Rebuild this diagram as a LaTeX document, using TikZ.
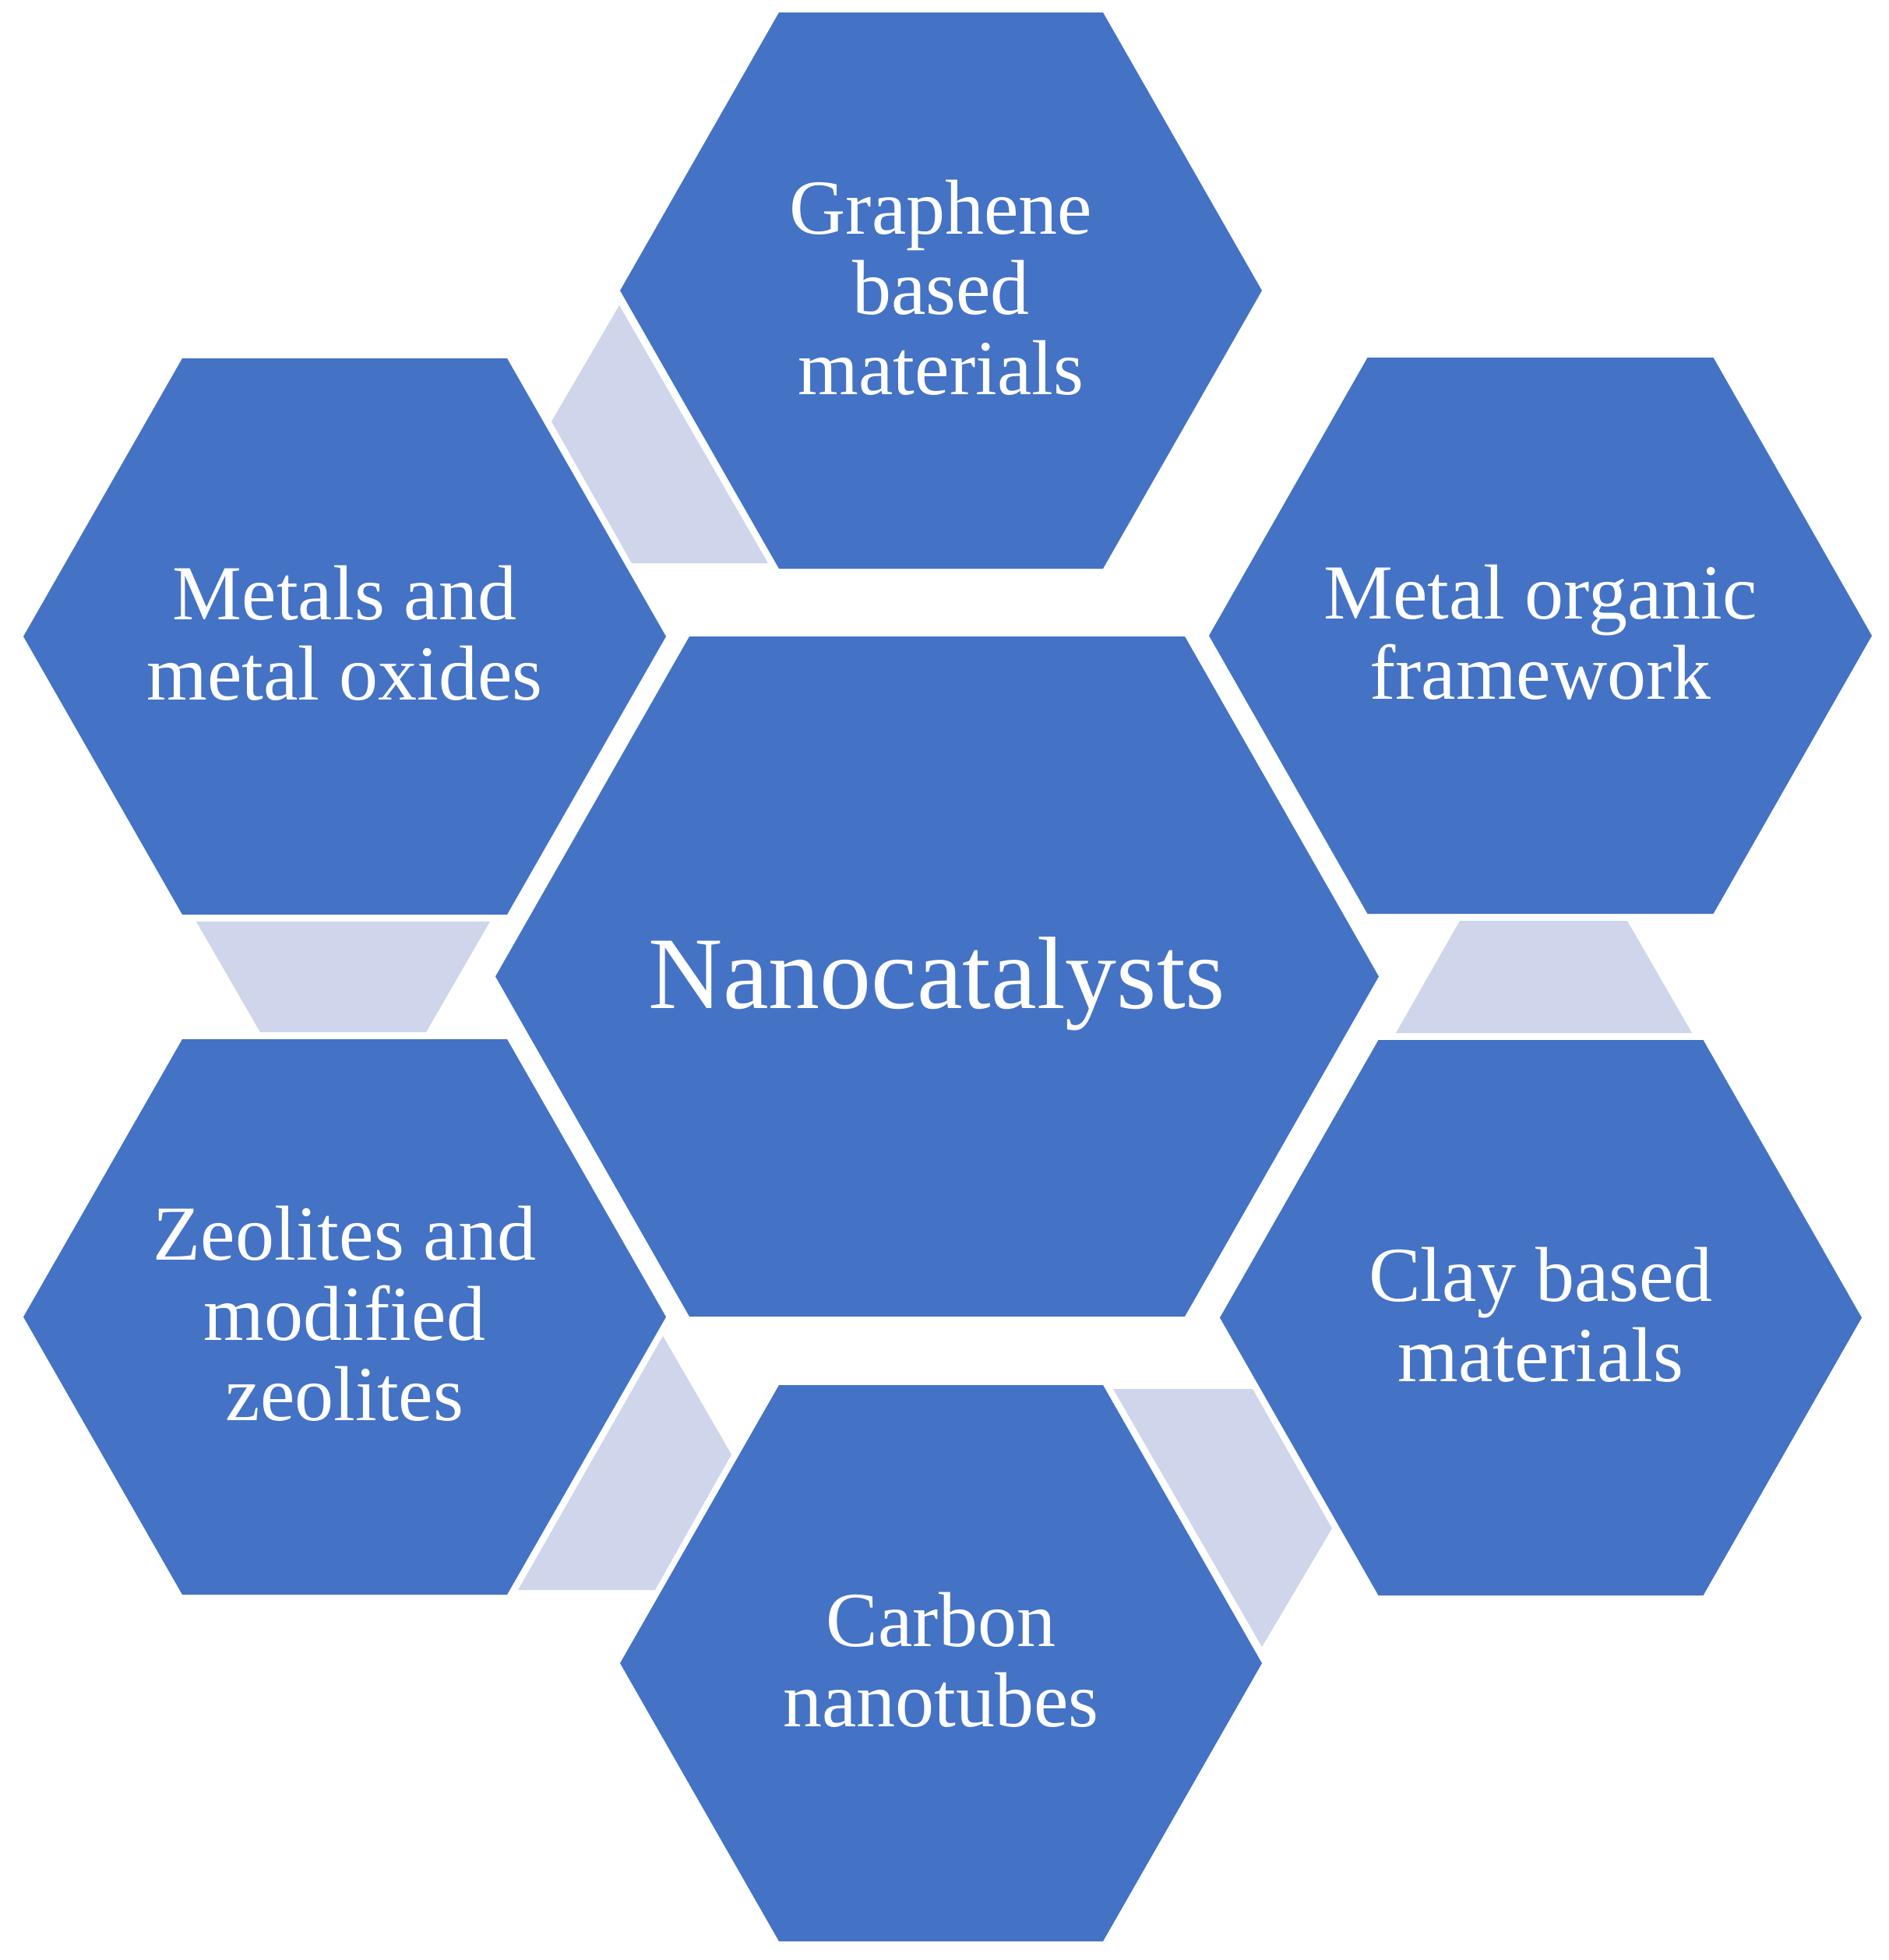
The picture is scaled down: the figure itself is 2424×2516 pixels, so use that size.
\documentclass[tikz,border=0pt]{standalone}
\usepackage{fontspec}
\setmainfont{Liberation Serif}
\definecolor{hexblue}{HTML}{4472C4}
\definecolor{linkgray}{HTML}{CFD5EA}
\tikzset{
  hexfill/.style={fill=hexblue},
  linkfill/.style={fill=linkgray},
  smalllabel/.style={text=white, align=center, inner sep=0pt,
    font=\fontsize{25}{25.75}\selectfont},
  biglabel/.style={text=white, inner sep=0pt, anchor=base,
    font=\fontsize{33}{39}\selectfont},
}
% name, cx, cy, half width, half edge, half height
\newcommand\hexshape[6]{%
  \fill[hexfill] (#2-#4,#3) -- (#2-#5,#3-#6) -- (#2+#5,#3-#6) -- (#2+#4,#3)
    -- (#2+#5,#3+#6) -- (#2-#5,#3+#6) -- cycle;
  \coordinate (#1) at (#2,#3);}
\begin{document}
\begin{tikzpicture}[x=0.25pt,y=-0.25pt]
\fill[white] (0,0) rectangle (2424,2516);
\useasboundingbox (0,0) rectangle (2424,2516);

% connecting light shapes
\fill[linkfill] (708,541) -- (795,392) -- (986,723) -- (811,723) -- cycle;
\fill[linkfill] (252,1183) -- (629,1183) -- (547,1325) -- (334,1325) -- cycle;
\fill[linkfill] (1874,1182) -- (2089,1182) -- (2172,1326) -- (1792,1326) -- cycle;
\fill[linkfill] (851,1715) -- (939,1867) -- (841,2041) -- (665,2041) -- cycle;
\fill[linkfill] (1429,1783) -- (1608,1783) -- (1710,1962) -- (1620,2114) -- cycle;

% hexagons
\hexshape{hc}{1203}{1253.5}{567}{318}{436.5}
\hexshape{hg}{1208}{373}{412}{208}{357}
\hexshape{hm}{442.5}{817}{412.5}{208.5}{357}
\hexshape{hf}{1977.5}{816}{425.5}{222}{357}
\hexshape{hz}{442.5}{1690.5}{412.5}{208.5}{356.5}
\hexshape{hk}{1978}{1691.5}{412}{208.5}{356.5}
\hexshape{hn}{1208}{2135}{412}{208}{357}

% labels
\node[biglabel] (lc) at (1203,1294) {Nanocatalysts};
\node[smalllabel] (lg) at (1208,369) {Graphene\\based\\materials};
\node[smalllabel] (lm) at (442.5,813) {Metals and\\metal oxides};
\node[smalllabel] (lf) at (1977.5,812) {Metal organic\\framework};
\node[smalllabel] (lz) at (442.5,1686.5) {Zeolites and\\modified\\zeolites};
\node[smalllabel] (lk) at (1978,1687.5) {Clay based\\materials};
\node[smalllabel] (ln) at (1208,2131) {Carbon\\nanotubes};
\end{tikzpicture}
\end{document}
